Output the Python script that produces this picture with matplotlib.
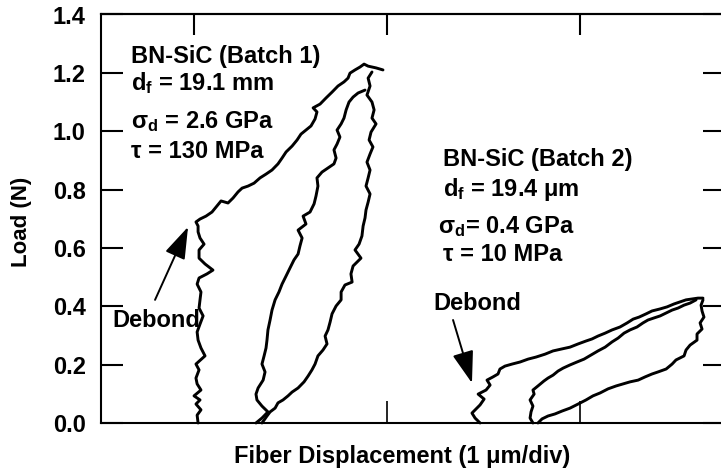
import matplotlib
matplotlib.use("Agg")
import matplotlib.pyplot as plt

plt.rcParams['font.family'] = ['Liberation Sans', 'DejaVu Sans']
plt.rcParams['font.weight'] = 'bold'
plt.rcParams['mathtext.default'] = 'regular'

# ---- Batch 1 (displacement in um, load in N) ----
b1_load_x = [1.021, 1.016, 1.036, 1.010, 1.031, 1.000, 1.036, 1.016, 1.010, 1.026, 1.010, 1.057,
             1.036, 1.021, 1.016, 1.031, 1.047, 1.026, 1.031, 1.036, 1.016, 1.026, 1.067, 1.098,
             1.057, 1.026, 1.026, 1.052, 1.031, 1.021, 1.021, 1.010,
             1.031, 1.062, 1.093, 1.119, 1.140, 1.176, 1.202, 1.228, 1.249, 1.280, 1.311, 1.342,
             1.373, 1.404, 1.435, 1.456, 1.477, 1.508, 1.534, 1.554, 1.580, 1.606, 1.627, 1.637,
             1.617, 1.653, 1.684, 1.715, 1.746, 1.777, 1.798, 1.808, 1.834, 1.860, 1.881, 1.902,
             1.943, 1.979]
b1_load_y = [0.000, 0.027, 0.045, 0.065, 0.079, 0.093, 0.113, 0.134, 0.154, 0.182, 0.202, 0.230,
             0.257, 0.284, 0.312, 0.339, 0.367, 0.394, 0.422, 0.449, 0.476, 0.497, 0.511, 0.524,
             0.545, 0.565, 0.593, 0.613, 0.634, 0.655, 0.675, 0.689,
             0.699, 0.709, 0.723, 0.744, 0.761, 0.754, 0.771, 0.792, 0.805, 0.812, 0.822, 0.840,
             0.853, 0.867, 0.888, 0.908, 0.929, 0.949, 0.970, 0.990, 1.004, 1.018, 1.042, 1.066,
             1.080, 1.093, 1.114, 1.134, 1.155, 1.169, 1.182, 1.199, 1.210, 1.220, 1.230, 1.223,
             1.217, 1.210]

b1_unload_x = [1.922, 1.902, 1.912, 1.896, 1.922, 1.933, 1.922, 1.943, 1.917, 1.907, 1.927, 1.912,
               1.896, 1.912, 1.902, 1.891, 1.912, 1.902, 1.891, 1.886, 1.876, 1.870, 1.855, 1.834,
               1.865, 1.824, 1.813, 1.819, 1.782, 1.762, 1.762, 1.736, 1.715, 1.705, 1.694, 1.679,
               1.689, 1.668, 1.642, 1.627, 1.611, 1.591, 1.570, 1.539, 1.508, 1.487, 1.461, 1.435,
               1.420, 1.394, 1.378, 1.363, 1.352]
b1_unload_y = [1.203, 1.182, 1.155, 1.124, 1.100, 1.073, 1.045, 1.025, 0.997, 0.970, 0.946, 0.922,
               0.894, 0.867, 0.840, 0.812, 0.785, 0.757, 0.730, 0.703, 0.675, 0.641, 0.613, 0.593,
               0.565, 0.538, 0.511, 0.483, 0.473, 0.449, 0.422, 0.401, 0.374, 0.346, 0.319, 0.298,
               0.271, 0.250, 0.230, 0.202, 0.182, 0.161, 0.141, 0.120, 0.106, 0.093, 0.079, 0.069,
               0.051, 0.038, 0.024, 0.010, 0.000]

b1_reload_x = [1.321, 1.352, 1.383, 1.352, 1.326, 1.321, 1.332, 1.358, 1.368, 1.352, 1.363, 1.373,
               1.378, 1.383, 1.394, 1.404, 1.420, 1.440, 1.456, 1.477, 1.497, 1.518, 1.539, 1.549,
               1.560, 1.539, 1.580, 1.565, 1.601, 1.622, 1.632, 1.642, 1.637, 1.663, 1.694, 1.725,
               1.736, 1.725, 1.741, 1.756, 1.741, 1.762, 1.777, 1.788, 1.803, 1.824, 1.850, 1.886]
b1_reload_y = [0.000, 0.017, 0.038, 0.058, 0.079, 0.099, 0.120, 0.147, 0.175, 0.202, 0.230, 0.257,
               0.284, 0.319, 0.353, 0.387, 0.422, 0.449, 0.476, 0.504, 0.531, 0.559, 0.579, 0.607,
               0.634, 0.661, 0.682, 0.709, 0.723, 0.751, 0.778, 0.812, 0.840, 0.860, 0.874, 0.888,
               0.908, 0.936, 0.956, 0.980, 1.004, 1.025, 1.045, 1.073, 1.100, 1.117, 1.131, 1.141]

# ---- Batch 2 ----
b2_load_x = [2.482, 2.456, 2.440, 2.461, 2.482, 2.503, 2.472, 2.513, 2.534, 2.518, 2.549, 2.575,
             2.585, 2.611, 2.648, 2.689, 2.731, 2.772, 2.819, 2.860, 2.907, 2.948, 2.990, 3.031,
             3.062, 3.093, 3.130, 3.166, 3.207, 3.244, 3.275, 3.306, 3.342, 3.373, 3.415, 3.451,
             3.487, 3.518, 3.549, 3.580, 3.611, 3.637]
b2_load_y = [0.000, 0.017, 0.034, 0.048, 0.062, 0.082, 0.099, 0.113, 0.130, 0.147, 0.158, 0.168,
             0.185, 0.195, 0.202, 0.209, 0.219, 0.226, 0.236, 0.247, 0.254, 0.260, 0.271, 0.281,
             0.288, 0.298, 0.308, 0.319, 0.329, 0.343, 0.356, 0.363, 0.374, 0.384, 0.391, 0.398,
             0.408, 0.415, 0.422, 0.425, 0.428, 0.428]

b2_unload_x = [3.637, 3.627, 3.632, 3.642, 3.622, 3.632, 3.606, 3.606, 3.570, 3.549, 3.539, 3.497,
               3.477, 3.446, 3.404, 3.373, 3.337, 3.301, 3.259, 3.223, 3.187, 3.145, 3.104, 3.067,
               3.031, 2.990, 2.948, 2.907, 2.870, 2.834, 2.803, 2.782]
b2_unload_y = [0.422, 0.404, 0.384, 0.363, 0.343, 0.322, 0.305, 0.284, 0.267, 0.250, 0.230, 0.216,
               0.202, 0.185, 0.175, 0.168, 0.158, 0.147, 0.141, 0.134, 0.127, 0.117, 0.103, 0.093,
               0.079, 0.065, 0.051, 0.041, 0.031, 0.024, 0.014, 0.000]

b2_reload_x = [2.756, 2.741, 2.746, 2.756, 2.741, 2.762, 2.756, 2.782, 2.813, 2.834, 2.860, 2.886,
               2.912, 2.948, 2.984, 3.021, 3.057, 3.093, 3.130, 3.166, 3.197, 3.228, 3.259, 3.295,
               3.326, 3.352, 3.383, 3.415, 3.446, 3.477, 3.508, 3.539, 3.570, 3.601]
b2_reload_y = [0.000, 0.017, 0.038, 0.058, 0.079, 0.099, 0.113, 0.127, 0.144, 0.154, 0.164, 0.178,
               0.188, 0.199, 0.209, 0.219, 0.233, 0.247, 0.260, 0.278, 0.291, 0.308, 0.319, 0.329,
               0.343, 0.353, 0.360, 0.367, 0.377, 0.387, 0.394, 0.404, 0.411, 0.422]

yticks = [0.0, 0.2, 0.4, 0.6, 0.8, 1.0, 1.2, 1.4]
ytick_labels = ["0.0", "0.2", "0.4", "0.6", "0.8", "1.0", "1.2", "1.4"]
bottom_xticks = [2, 3]
top_xticks = [1, 2, 3]

batch1_text = ["BN-SiC (Batch 1)", "d$_{f}$ = 19.1 mm", "σ$_{d}$ = 2.6 GPa", "τ = 130 MPa"]
batch2_text = ["BN-SiC (Batch 2)", "d$_{f}$ = 19.4 μm", "σ$_{d}$= 0.4 GPa", "τ = 10 MPa"]

FS = 17

fig = plt.figure(figsize=(7.21, 4.69), dpi=100)
ax = fig.add_axes([101/721, 46/469, 624/721, 408.5/469])

lw = 2.1
for xs, ys in [(b1_load_x, b1_load_y), (b1_unload_x, b1_unload_y), (b1_reload_x, b1_reload_y),
               (b2_load_x, b2_load_y), (b2_unload_x, b2_unload_y), (b2_reload_x, b2_reload_y)]:
    ax.plot(xs, ys, color='black', lw=lw, solid_joinstyle='round', solid_capstyle='round',
            clip_on=False)

ax.set_xlim(0.518, 3.751)
ax.set_ylim(0, 1.4)
ax.set_yticks(yticks)
ax.set_yticklabels(ytick_labels)
ax.set_xticks(bottom_xticks)
ax.set_xticklabels([])
ax.tick_params(axis='y', direction='in', length=16, width=1.5, right=True, labelsize=FS, pad=11)
ax.tick_params(axis='x', direction='in', length=16, width=1.2)
for s in ax.spines.values():
    s.set_linewidth(1.5)

sec = ax.secondary_xaxis('top')
sec.set_xticks(top_xticks)
sec.set_xticklabels([])
sec.tick_params(direction='in', length=15, width=1.5)
sec.spines['top'].set_linewidth(1.5)

fig.text(402.5/721, 6/469, "Fiber Displacement (1 μm/div)", fontsize=FS, ha='center', va='baseline')
fig.text(22/721, 1 - 222/469, "Load (N)", fontsize=16, ha='center', va='center', rotation=90)

ys1 = [1.234, 1.141, 1.011, 0.908]
for t, y in zip(batch1_text, ys1):
    ax.text(0.675, y, t, fontsize=FS, va='baseline', ha='left')
ys2 = [0.881, 0.778, 0.651, 0.555]
xs2 = [2.290, 2.290, 2.264, 2.290]
for t, x, y in zip(batch2_text, xs2, ys2):
    ax.text(x, y, t, fontsize=FS, va='baseline', ha='left')

arrow = dict(arrowstyle='-|>,head_length=0.9,head_width=0.3', color='black', lw=1.4,
             shrinkA=0, shrinkB=0, mutation_scale=22)
ax.annotate("", xy=(0.969, 0.672), xytext=(0.798, 0.422), arrowprops=arrow)
ax.text(0.575, 0.329, "Debond", fontsize=FS, va='baseline', ha='left')
ax.annotate("", xy=(2.440, 0.137), xytext=(2.342, 0.353), arrowprops=arrow)
ax.text(2.238, 0.387, "Debond", fontsize=FS, va='baseline', ha='left')

fig.savefig("out.png", dpi=100)
